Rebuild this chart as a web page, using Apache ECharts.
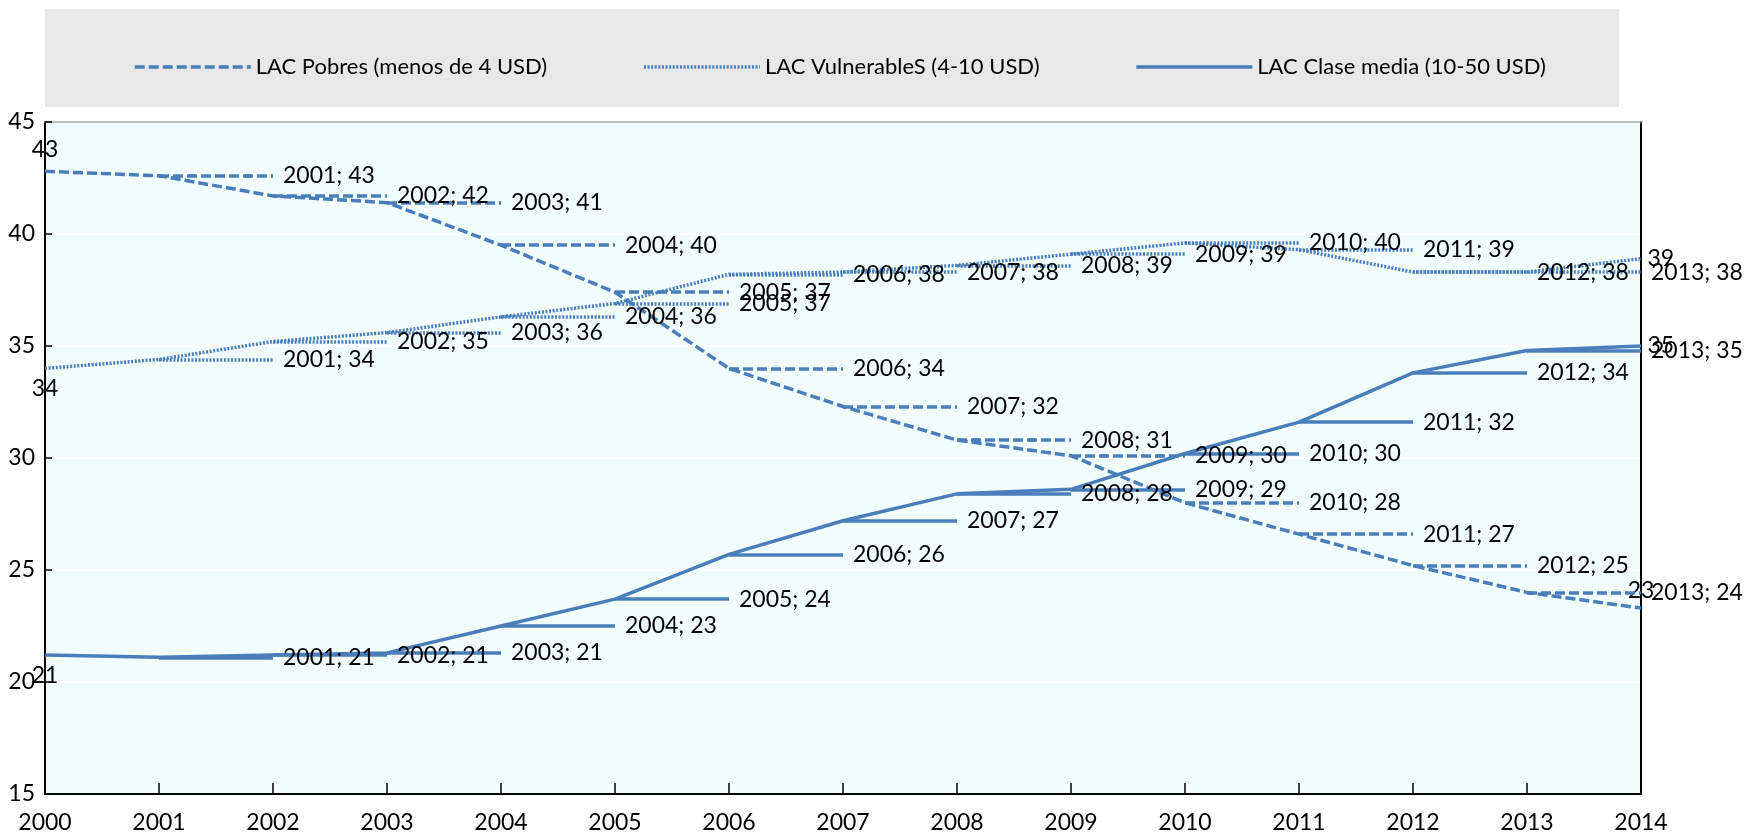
<!DOCTYPE html>
<html>
<head>
<meta charset="utf-8">
<script src="https://cdn.jsdelivr.net/npm/echarts@6/dist/echarts.min.js"></script>
<style>
html,body{margin:0;padding:0;background:#fff;}
#chart{width:1748px;height:838px;}
</style>
</head>
<body>
<div id="chart"></div>
<script>
const years = [2000,2001,2002,2003,2004,2005,2006,2007,2008,2009,2010,2011,2012,2013,2014];
const seriesNames = ['LAC Pobres (menos de 4 USD)', 'LAC VulnerableS (4-10 USD)', 'LAC Clase media (10-50 USD)'];
const pobres      = [42.8, 42.6, 41.7, 41.4, 39.5, 37.4, 34.0, 32.3, 30.8, 30.1, 28.0, 26.6, 25.2, 24.0, 23.3];
const vulnerables = [34.0, 34.4, 35.2, 35.6, 36.3, 36.9, 38.2, 38.3, 38.6, 39.1, 39.6, 39.3, 38.3, 38.3, 38.9];
const claseMedia  = [21.2, 21.1, 21.2, 21.3, 22.5, 23.7, 25.7, 27.2, 28.4, 28.6, 30.2, 31.6, 33.8, 34.8, 35.0];
const yTicks = [15, 20, 25, 30, 35, 40, 45];

const COLOR = '#4a7ebb';
const FONT = 'Lato';
const styles = [
  { type: [10, 4], width: 3.5 },
  { type: [2, 1.6], width: 3.5 },
  { type: 'solid', width: 3.5 }
];
const firstPos = [
  { position: 'top', distance: 10 },
  { position: 'bottom', distance: 8 },
  { position: 'bottom', distance: 8 }
];
const lastPos = [
  { position: 'top', distance: 6 },
  { position: 'right', distance: 6 },
  { position: 'right', distance: 6 }
];
const allValues = [pobres, vulnerables, claseMedia];

const chart = echarts.init(document.getElementById('chart'), null, { renderer: 'canvas' });

const series = allValues.map((vals, s) => {
  const data = vals.map((v, i) => {
    const item = { value: [years[i], v] };
    if (i === 0 || i === vals.length - 1) {
      const p = i === 0 ? firstPos[s] : lastPos[s];
      item.label = {
        show: true, position: p.position, distance: p.distance,
        formatter: String(Math.round(v)),
        color: '#000', fontFamily: FONT, fontSize: 23
      };
    }
    return item;
  });
  const mlData = [];
  for (let i = 1; i < vals.length - 1; i++) {
    mlData.push([
      { coord: [years[i], vals[i]], name: years[i] + '; ' + Math.round(vals[i]) },
      { coord: [years[i + 1], vals[i]] }
    ]);
  }
  return {
    name: seriesNames[s],
    type: 'line',
    data: data,
    symbol: 'circle',
    symbolSize: 1,
    showSymbol: true,
    showAllSymbol: true,
    silent: true,
    lineStyle: { color: COLOR, width: styles[s].width, type: styles[s].type },
    itemStyle: { color: 'rgba(0,0,0,0)', borderWidth: 0 },
    label: { show: false },
    emphasis: { disabled: true },
    z: 3,
    markLine: {
      silent: true,
      symbol: ['none', 'none'],
      animation: false,
      lineStyle: { color: COLOR, width: styles[s].width, type: styles[s].type },
      label: {
        show: true, position: 'end', distance: 10, formatter: '{b}',
        color: '#000', fontFamily: FONT, fontSize: 23
      },
      emphasis: { disabled: true },
      data: mlData
    }
  };
});

const option = {
  animation: false,
  backgroundColor: '#ffffff',
  textStyle: { fontFamily: FONT },
  graphic: [{
    type: 'rect', left: 45, top: 9, z: -10,
    shape: { width: 1574, height: 98 },
    style: { fill: '#e8e8e8' }
  }],
  legend: {
    left: 128, top: 47,
    itemWidth: 116, itemHeight: 14, itemGap: 95,
    itemStyle: { opacity: 0 },
    lineStyle: { width: 3.5 },
    textStyle: { fontFamily: FONT, fontSize: 22, color: '#000', lineHeight: 30 },
    data: seriesNames
  },
  grid: {
    left: 45, right: 107, top: 122, bottom: 44,
    show: true, backgroundColor: '#f2fefe', borderWidth: 0,
    containLabel: false
  },
  xAxis: [{
    type: 'value', min: 2000, max: 2014, interval: 1,
    axisLine: { show: true, lineStyle: { color: '#000', width: 2 } },
    axisTick: { show: true, inside: true, length: 11, lineStyle: { color: '#000', width: 1.5 } },
    axisLabel: { color: '#000', fontFamily: FONT, fontSize: 23, margin: 17, formatter: v => String(v) },
    splitLine: { show: false }
  }, {
    type: 'value', min: 2000, max: 2014, interval: 1, position: 'top',
    axisLine: { show: true, onZero: false, lineStyle: { color: '#a6a6a6', width: 1.5 } },
    axisTick: { show: false }, axisLabel: { show: false }, splitLine: { show: false }
  }],
  yAxis: [{
    type: 'value', min: yTicks[0], max: yTicks[yTicks.length - 1], interval: 5,
    axisLine: { show: true, lineStyle: { color: '#000', width: 2 } },
    axisTick: { show: true, inside: true, length: 7, lineStyle: { color: '#000', width: 1.5 } },
    axisLabel: { color: '#000', fontFamily: FONT, fontSize: 23, margin: 10 },
    splitLine: { show: true, lineStyle: { color: '#ffffff', width: 1.5 } }
  }, {
    type: 'value', min: yTicks[0], max: yTicks[yTicks.length - 1], interval: 5, position: 'right',
    axisLine: { show: true, onZero: false, lineStyle: { color: '#000', width: 2 } },
    axisTick: { show: false }, axisLabel: { show: false }, splitLine: { show: false }
  }],
  series: series
};
chart.setOption(option);
</script>
</body>
</html>
